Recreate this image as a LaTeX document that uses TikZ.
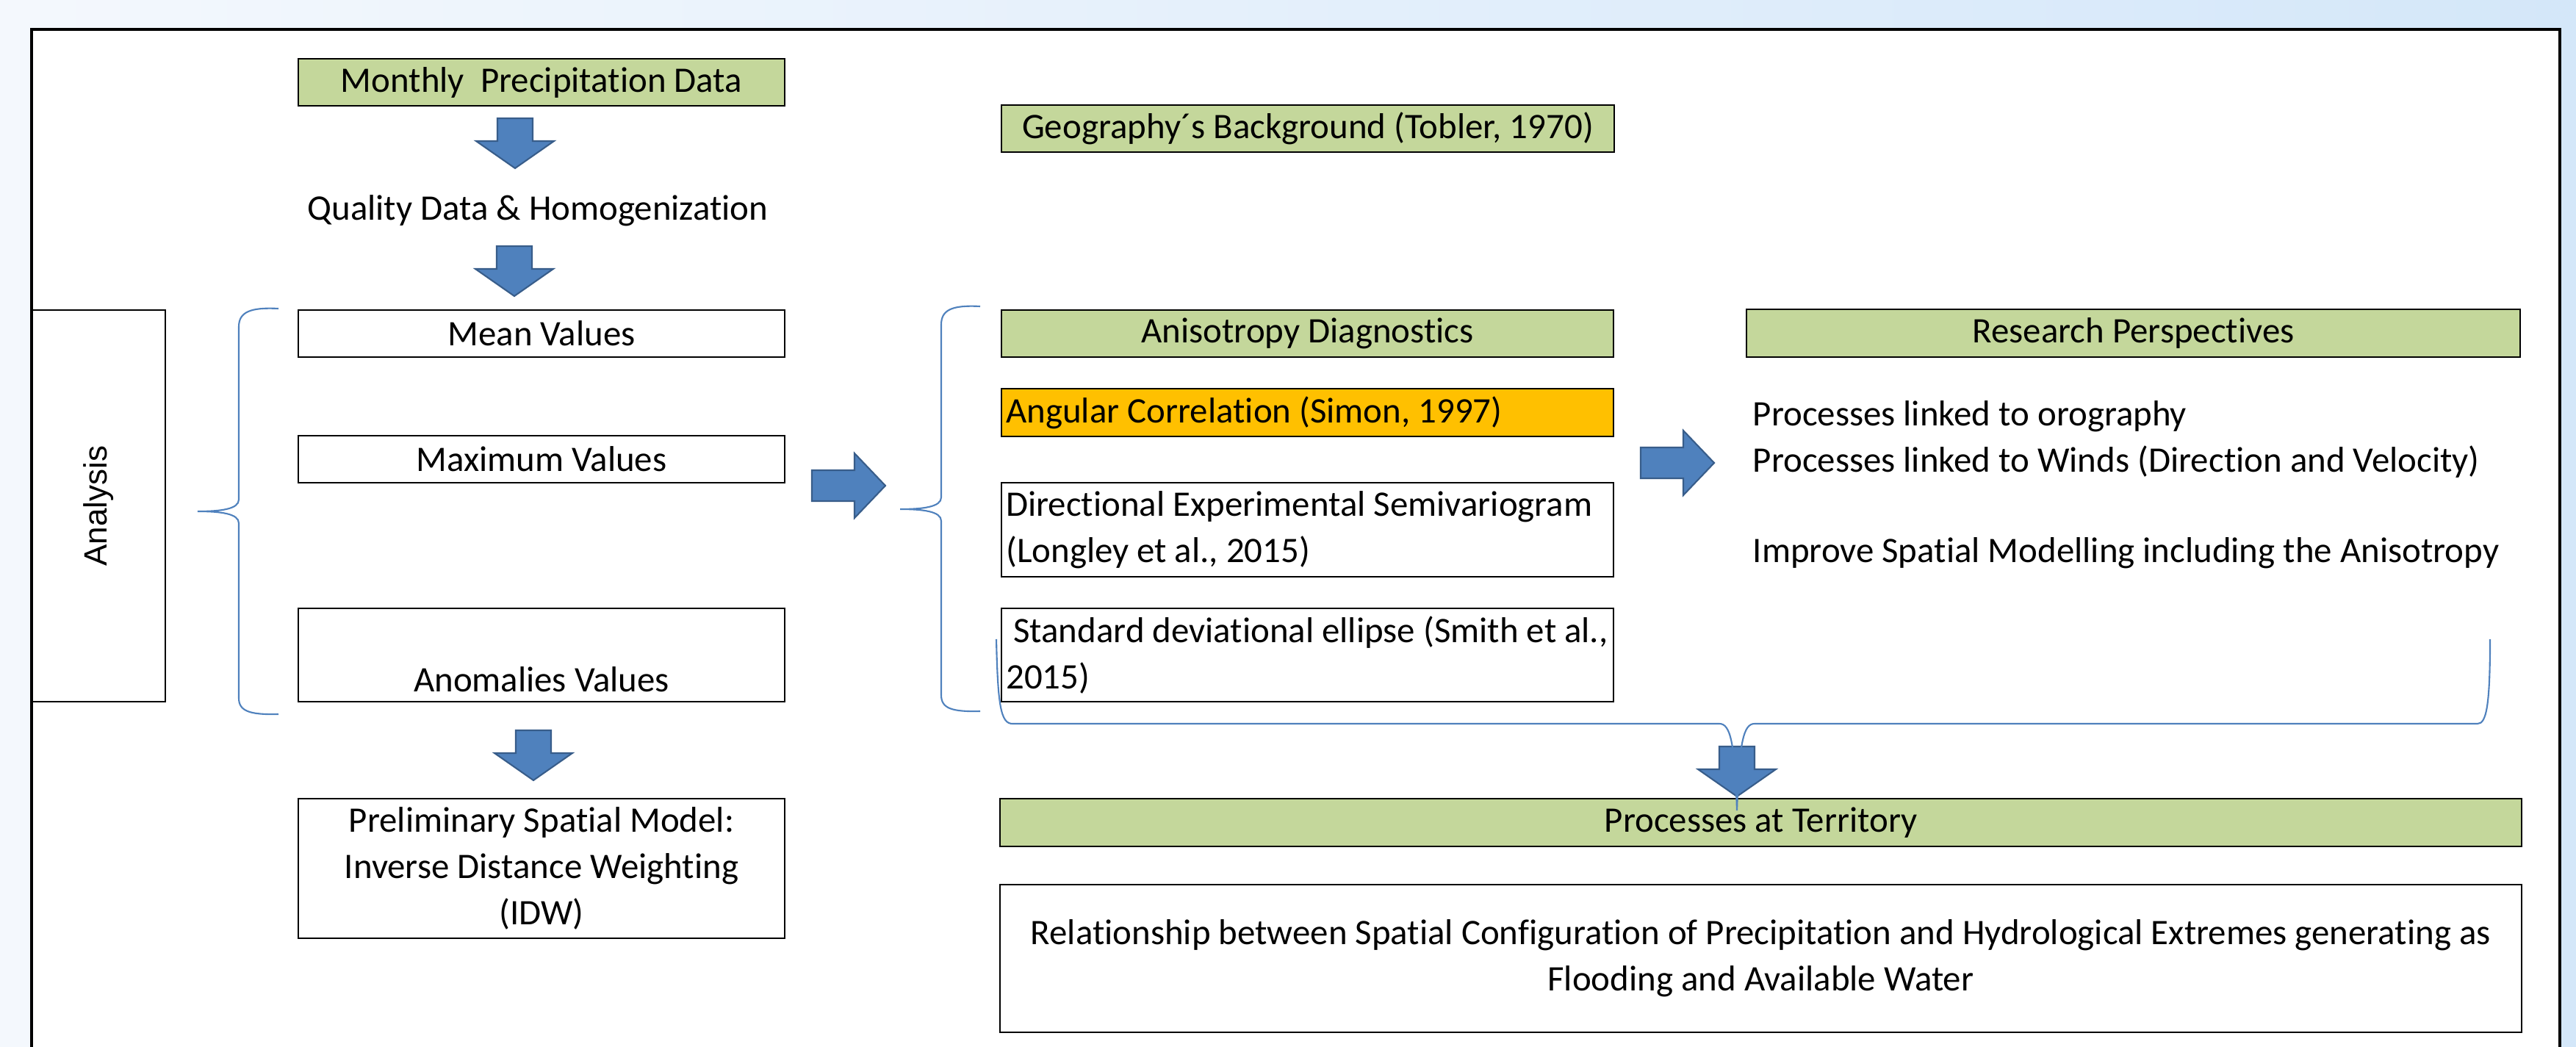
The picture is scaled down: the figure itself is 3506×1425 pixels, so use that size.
\documentclass[tikz,border=0pt]{standalone}
\usepackage{fontspec}
\setmainfont{Carlito}[Ligatures=NoCommon]
\newfontfamily\arialfont{Liberation Sans}

\definecolor{boxgreen}{RGB}{196,215,155}
\definecolor{boxorange}{RGB}{255,192,0}
\definecolor{arrowblue}{RGB}{79,129,189}
\definecolor{arrowedge}{RGB}{56,93,138}
\definecolor{bgleft}{RGB}{244,248,253}
\definecolor{bgright}{RGB}{212,231,249}

\tikzset{
    pics/downblk/.style={code={
        \draw[blkarrow] (-24,0) -- (24,0) -- (24,31) -- (53,31) -- (0,68)
            -- (-53,31) -- (-24,31) -- cycle;}},
    pics/rightblk/.style={code={
        \draw[blkarrow] (0,-21) -- (58,-21) -- (58,-44) -- (100,0) -- (58,44)
            -- (58,21) -- (0,21) -- cycle;}},
}

\begin{document}
\begin{tikzpicture}
[
    x=0.01cm, y=-0.01cm,
    every node/.style={font=\fontsize{13.9}{17.9}\selectfont, inner sep=0pt},
    box/.style={draw, line width=0.6pt},
    leftcol/.style={box, minimum width=6.61cm},
    midcol/.style={box, minimum width=8.33cm},
    lefttext/.style={text width=8.2cm, inner xsep=0.065cm, align=flush left},
    blkarrow/.style={fill=arrowblue, draw=arrowedge, line width=0.6pt},
    brace/.style={draw=arrowblue, line width=0.6pt},
]
\useasboundingbox (0,0) rectangle (3506,1425);
\fill[left color=bgleft, right color=bgright] (0,0) rectangle (3506,1425);
\fill[white] (43,40) rectangle (3484,1440);
\draw[line width=1pt] (43,1440) -- (43,40) -- (3484,40) -- (3484,1440);

\node (monthly) [leftcol, fill=boxgreen, minimum height=0.64cm] at (737,112) {Monthly\ \ Precipitation Data};
\node (quality) at (732,287) {Quality Data \& Homogenization};
\node (mean) [leftcol, minimum height=0.64cm] at (737,454) {Mean Values};
\node (maxv) [leftcol, minimum height=0.64cm] at (737,625) {Maximum Values};
\node (anom) [leftcol, minimum height=1.27cm] at (737,891.5) {};
\node (anomtext) at (737,925) {Anomalies Values};
\node (prelim) [leftcol, minimum height=1.9cm, align=center] at (737,1182)
    {Preliminary Spatial Model:\\Inverse Distance Weighting\\(IDW)};
\node (analysis) [box, rotate=90, minimum width=5.33cm, minimum height=1.82cm,
    font=\arialfont\fontsize{12.5}{15}\selectfont] at (134,688.5) {Analysis};

\node (geo) [midcol, fill=boxgreen, minimum height=0.64cm] at (1780,175) {Geography´s Background (Tobler, 1970)};
\node (aniso) [midcol, fill=boxgreen, minimum height=0.64cm] at (1779.5,454) {Anisotropy Diagnostics};
\node (angular) [midcol, lefttext, fill=boxorange, minimum height=0.65cm] at (1779.5,561.5) {Angular Correlation (Simon, 1997)};
\node (direc) [midcol, lefttext, minimum height=1.28cm] at (1779.5,721)
    {Directional Experimental Semivariogram\\(Longley et al., 2015)};
\node (stddev) [midcol, lefttext, minimum height=1.27cm] at (1779.5,891.5)
    {\hspace*{0.1cm}Standard deviational ellipse (Smith et al.,\\2015)};

\node (research) [box, fill=boxgreen, minimum width=10.53cm, minimum height=0.65cm] at (2903.5,453.5) {Research Perspectives};
\node (persp) [anchor=west, align=left] at (2385,660)
    {Processes linked to orography\\Processes linked to Winds (Direction and Velocity)\\[17pt]Improve Spatial Modelling including the Anisotropy};

\node (territory) [box, fill=boxgreen, minimum width=20.69cm, minimum height=0.65cm] at (2396.5,1119.5) {Processes at Territory};
\node (relation) [box, minimum width=20.69cm, minimum height=2.01cm, align=center] at (2396.5,1304.5)
    {Relationship between Spatial Configuration of Precipitation and Hydrological Extremes generating as\\Flooding and Available Water};

\pic at (701,161) {downblk};
\pic at (700,335) {downblk};
\pic at (726,994) {downblk};
\pic at (2364,1016) {downblk};
\pic at (1105,661) {rightblk};
\pic at (2233,630) {rightblk};

\draw[brace] (379,420) .. controls (340,418) and (325,425) .. (325,445) -- (325,680)
    .. controls (325,693) and (300,696) .. (269,696)
    .. controls (300,696) and (325,699) .. (325,712) -- (325,950)
    .. controls (325,968) and (340,973) .. (379,972);
\draw[brace] (1334,417) .. controls (1295,415) and (1281,422) .. (1281,442) -- (1281,677)
    .. controls (1281,690) and (1256,693) .. (1225,693)
    .. controls (1256,693) and (1281,696) .. (1281,709) -- (1281,946)
    .. controls (1281,964) and (1295,969) .. (1334,968);
\draw[brace] (1356,870) .. controls (1358,960) and (1362,985) .. (1378,985) -- (2340,985)
    .. controls (2355,985) and (2361,1010) .. (2364,1103)
    .. controls (2367,1010) and (2373,985) .. (2388,985) -- (3372,985)
    .. controls (3384,985) and (3389,960) .. (3389,870);
\end{tikzpicture}
\end{document}
